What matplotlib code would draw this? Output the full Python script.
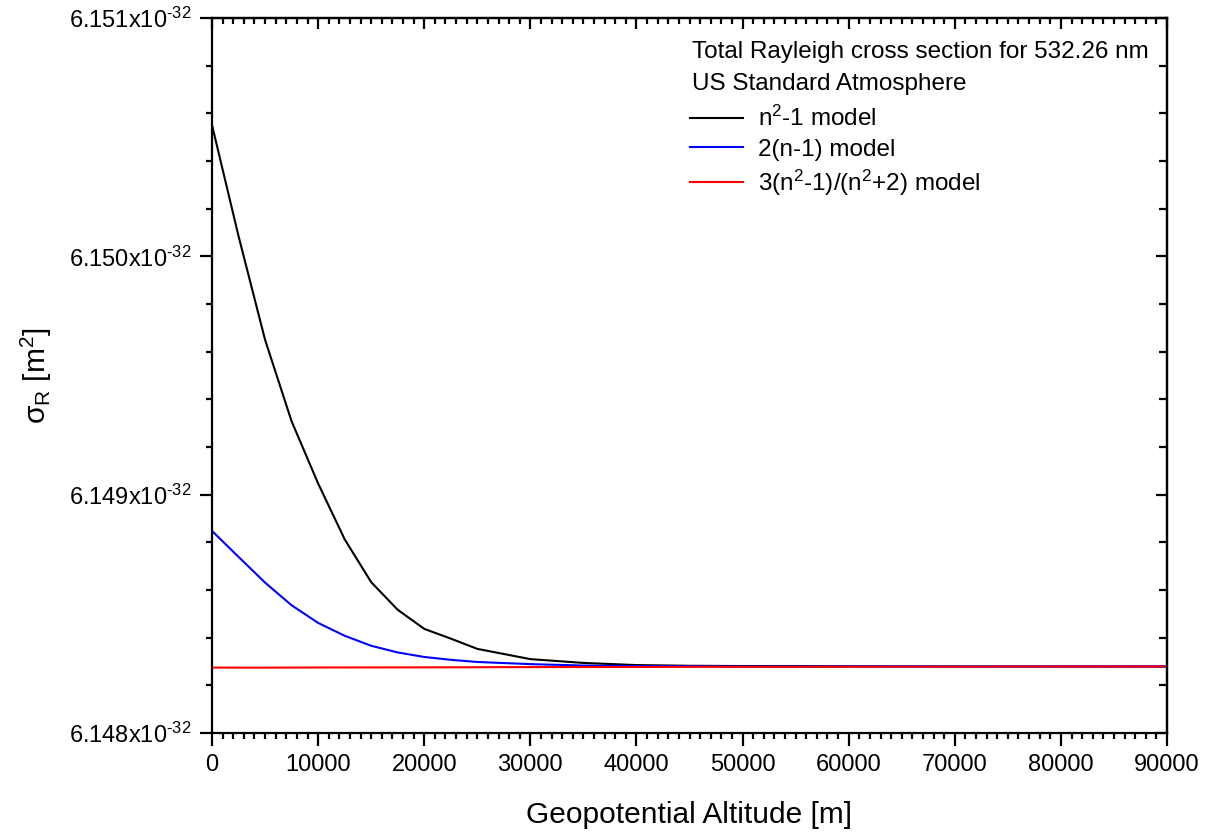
import matplotlib
matplotlib.use("Agg")
import matplotlib.pyplot as plt
from matplotlib.ticker import MultipleLocator, FuncFormatter, NullFormatter

plt.rcParams['font.family'] = ['Liberation Sans', 'DejaVu Sans']
plt.rcParams['mathtext.fontset'] = 'custom'
plt.rcParams['mathtext.rm'] = 'Liberation Sans'
plt.rcParams['mathtext.it'] = 'Liberation Sans:italic'
plt.rcParams['mathtext.bf'] = 'Liberation Sans:bold'

# Geopotential altitude [m]
altitude = [0, 2500, 5000, 7500, 10000, 12500, 15000, 17500, 20000, 22500,
            25000, 30000, 35000, 40000, 45000, 50000, 60000, 70000, 80000, 90000]

# Rayleigh cross section in units of 1e-32 m^2
sigma_n2_1 = [6.150551, 6.150085, 6.149650, 6.149308, 6.149047, 6.148813,
              6.148633, 6.148517, 6.148437, 6.148396, 6.148353, 6.148310,
              6.148294, 6.148285, 6.148282, 6.148281, 6.148280, 6.148279,
              6.148279, 6.148279]
sigma_2n_1 = [6.148848, 6.148739, 6.148631, 6.148536, 6.148462, 6.148408,
              6.148366, 6.148338, 6.148319, 6.148307, 6.148298, 6.148289,
              6.148283, 6.148281, 6.148280, 6.148279, 6.148279, 6.148279,
              6.148279, 6.148279]
sigma_lorentz = [6.1482745, 6.1482742, 6.1482742, 6.1482745, 6.1482748,
                 6.1482750, 6.1482752, 6.1482753, 6.1482755, 6.1482757,
                 6.1482760, 6.1482765, 6.1482768, 6.1482770, 6.1482775,
                 6.1482778, 6.1482780, 6.1482785, 6.1482788, 6.1482790]

labels = [r"n$^{2}$-1 model", "2(n-1) model", r"3(n$^{2}$-1)/(n$^{2}$+2) model"]
colors = ["black", "#0000ff", "#ff0000"]
legend_title_lines = ["Total Rayleigh cross section for 532.26 nm",
                      "US Standard Atmosphere"]

fig = plt.figure(figsize=(12.08, 8.32), dpi=100)
ax = fig.add_axes([212/1208, 1-733/832, (1167-212)/1208, (733-18)/832])

for ys, lab, c in zip([sigma_n2_1, sigma_2n_1, sigma_lorentz], labels, colors):
    ax.plot(altitude, ys, color=c, lw=1.5, label=lab)

ax.set_xlim(0, 90000)
ax.set_ylim(6.148, 6.151)

ax.xaxis.set_major_locator(MultipleLocator(10000))
ax.xaxis.set_minor_locator(MultipleLocator(1000))
ax.yaxis.set_major_locator(MultipleLocator(0.001))
ax.yaxis.set_minor_locator(MultipleLocator(0.0002))
ax.yaxis.set_major_formatter(
    FuncFormatter(lambda v, p: "%.3fx10$^{\\text{-32}}$" % v))

for s in ax.spines.values():
    s.set_linewidth(1.6)

ax.tick_params(axis='both', which='major', direction='out', length=9, width=1.6,
               labelsize=17, pad=6)
ax.tick_params(axis='both', which='minor', direction='out', length=4.5, width=1.6)

secx = ax.secondary_xaxis('top')
secx.xaxis.set_major_locator(MultipleLocator(10000))
secx.xaxis.set_minor_locator(MultipleLocator(1000))
secx.xaxis.set_major_formatter(NullFormatter())
secx.tick_params(which='major', direction='in', length=8, width=1.6)
secx.tick_params(which='minor', direction='in', length=4.5, width=1.6)
secx.spines['top'].set_linewidth(1.6)

secy = ax.secondary_yaxis('right')
secy.yaxis.set_major_locator(MultipleLocator(0.001))
secy.yaxis.set_minor_locator(MultipleLocator(0.0002))
secy.yaxis.set_major_formatter(NullFormatter())
secy.tick_params(which='major', direction='in', length=8, width=1.6)
secy.tick_params(which='minor', direction='in', length=6, width=1.6)
secy.spines['right'].set_linewidth(1.6)

ax.set_xlabel("Geopotential Altitude [m]", fontsize=21.5, labelpad=18)
ax.set_ylabel("σ$_{\\mathrm{R}}$ [m$^{2}$]", fontsize=21.5)
ax.yaxis.set_label_coords(-0.165, 0.5)

# legend header lines
for i, line in enumerate(legend_title_lines):
    fig.text(692/1208, 1-(52 + 32*i)/832, line, fontsize=17.5,
             ha='left', va='center')

leg = ax.legend(loc='upper left', bbox_to_anchor=(690/1208, 1-106/832),
                bbox_transform=fig.transFigure, frameon=False, fontsize=17.5,
                handlelength=2.2, handletextpad=0.6, labelspacing=0.3,
                borderpad=0, borderaxespad=0)

fig.savefig("out.png", dpi=100)
